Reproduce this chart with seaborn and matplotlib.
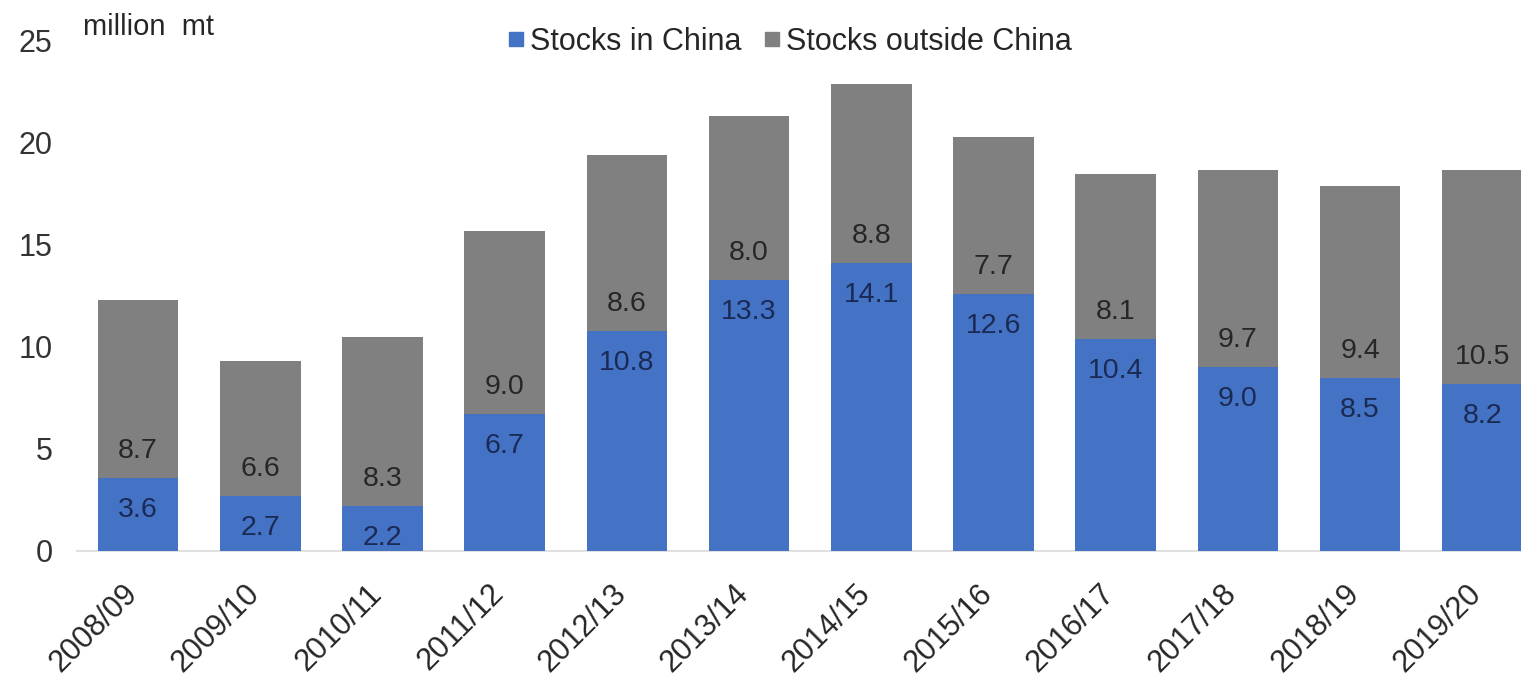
import matplotlib
matplotlib.use("Agg")
import matplotlib.pyplot as plt
import matplotlib.transforms as mtransforms
import seaborn as sns
import pandas as pd
from matplotlib.lines import Line2D

seasons = ["2008/09", "2009/10", "2010/11", "2011/12", "2012/13", "2013/14",
           "2014/15", "2015/16", "2016/17", "2017/18", "2018/19", "2019/20"]
china = [3.6, 2.7, 2.2, 6.7, 10.8, 13.3, 14.1, 12.6, 10.4, 9.0, 8.5, 8.2]
outside = [8.7, 6.6, 8.3, 9.0, 8.6, 8.0, 8.8, 7.7, 8.1, 9.7, 9.4, 10.5]
yticks = [0, 5, 10, 15, 20, 25]

sns.set_theme(style="white")
plt.rcParams["font.family"] = ["Liberation Sans", "DejaVu Sans"]

BLUE = "#4472C4"
GREY = "#808080"

df = pd.DataFrame({"season": seasons, "china": china, "outside": outside})
df["total"] = df["china"] + df["outside"]

fig = plt.figure(figsize=(15.21, 6.76), dpi=100)
ax = fig.add_axes([77 / 1521, 125 / 676, (1521 - 77) / 1521, 510 / 676])

sns.barplot(data=df, x="season", y="total", color=GREY, width=0.66,
            saturation=1, ax=ax, zorder=2, linewidth=0, edgecolor="none")
sns.barplot(data=df, x="season", y="china", color=BLUE, width=0.66,
            saturation=1, ax=ax, zorder=3, linewidth=0, edgecolor="none")

for i, (c, o) in enumerate(zip(china, outside)):
    ax.annotate(f"{c:.1f}", (i, c), xytext=(0, -32), textcoords="offset pixels",
                ha="center", va="center", fontsize=20.5, color="#1b2a55", zorder=5)
    ax.annotate(f"{o:.1f}", (i, c), xytext=(0, 27), textcoords="offset pixels",
                ha="center", va="center", fontsize=20.5, color="#262626", zorder=5)

ax.set_xlim(-0.5, 11.317)
ax.set_ylim(0, 25)
ax.set_yticks(yticks)
ax.set_yticklabels([str(v) for v in yticks], fontsize=22, color="#333333")
ax.set_xlabel("")
ax.set_ylabel("")
ax.tick_params(axis="y", length=0, pad=17.5)
ax.tick_params(axis="x", length=0, pad=20)
shift = mtransforms.ScaledTranslation(-16 / 100, 0, fig.dpi_scale_trans)
for lab in ax.get_xticklabels():
    lab.set_rotation(45)
    lab.set_ha("right")
    lab.set_rotation_mode("anchor")
    lab.set_fontsize(22)
    lab.set_color("#262626")
    lab.set_transform(lab.get_transform() + shift)

for s in ["top", "right", "left"]:
    ax.spines[s].set_visible(False)
ax.spines["bottom"].set_color("#e0e0e0")
ax.spines["bottom"].set_linewidth(1.5)
ax.spines["bottom"].set_zorder(1)

fig.text(83 / 1521, 1 - 27 / 676, "million  mt", fontsize=21, color="#262626",
         ha="left", va="center")

handles = [Line2D([], [], marker="s", linestyle="none", markersize=10,
                  markerfacecolor=BLUE, markeredgecolor=BLUE),
           Line2D([], [], marker="s", linestyle="none", markersize=10,
                  markerfacecolor=GREY, markeredgecolor=GREY)]
fig.legend(handles, ["Stocks in China", "Stocks outside China"],
           loc="center", bbox_to_anchor=(788 / 1521, 1 - 42 / 676), ncol=2,
           frameon=False, fontsize=22, handletextpad=0.05, columnspacing=0.6,
           handlelength=0.8, labelcolor="#262626")

fig.savefig("out.png", dpi=100)
